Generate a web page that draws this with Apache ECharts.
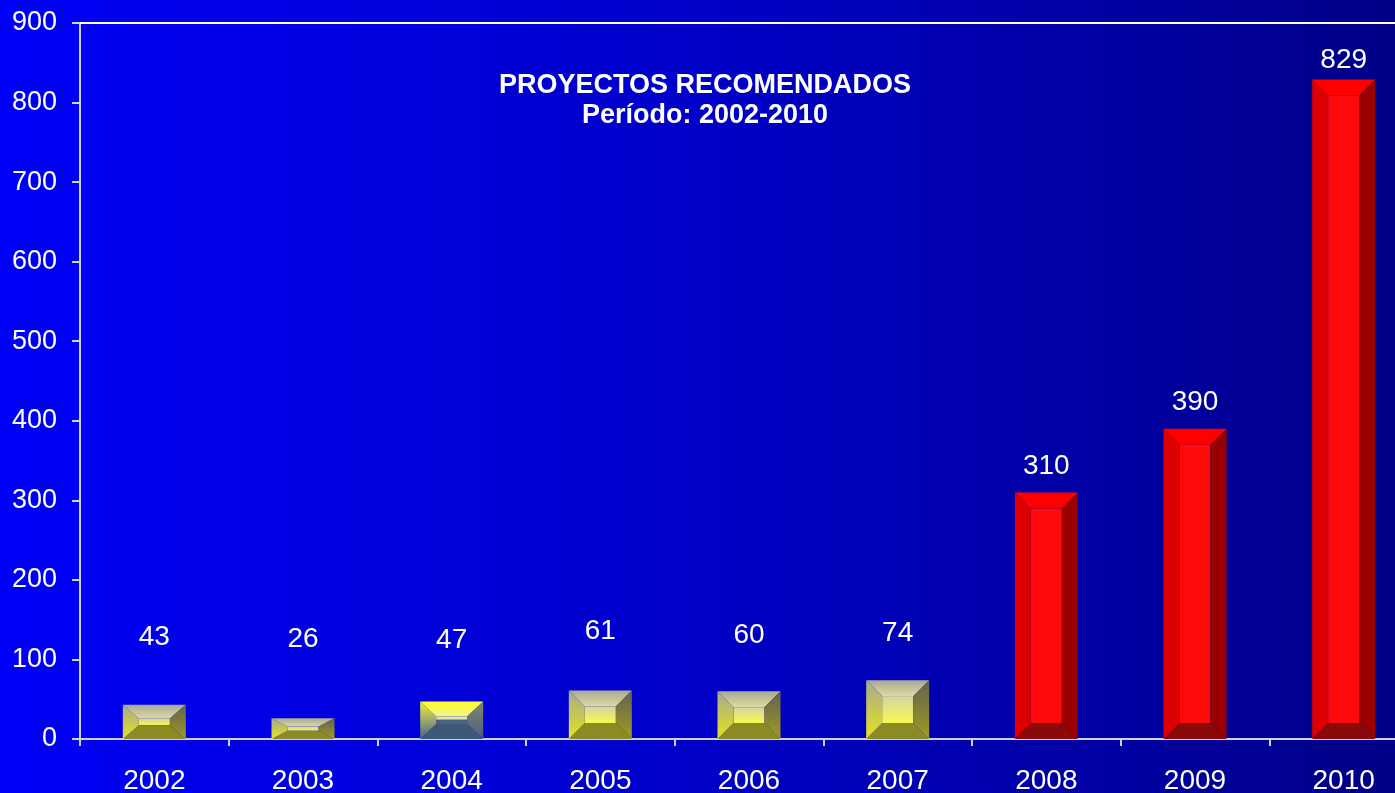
<!DOCTYPE html>
<html>
<head>
<meta charset="utf-8">
<title>Proyectos recomendados</title>
<script src="https://cdn.jsdelivr.net/npm/echarts@6/dist/echarts.min.js"></script>
<style>
  html, body { margin: 0; padding: 0; }
  #grafico { width: 1395px; height: 793px; }
</style>
</head>
<body>
<div id="grafico"></div>
<script>
  // datos del grafico
  var anios = ['2002', '2003', '2004', '2005', '2006', '2007', '2008', '2009', '2010'];
  var proyectos = [43, 26, 47, 61, 60, 74, 310, 390, 829];
  var ticksY = [0, 100, 200, 300, 400, 500, 600, 700, 800, 900];

  // separacion de la etiqueta respecto a la barra (px), solo estilo
  var distEtiqueta = [54, 65, 47, 45, 42, 33, 12, 12, 5];

  var fuente = 'Liberation Sans, Arial, sans-serif';

  function grad(c1, c2) {
    return {
      type: 'linear', x: 0, y: 0, x2: 0, y2: 1,
      colorStops: [{offset: 0, color: c1}, {offset: 1, color: c2}]
    };
  }

  var paletas = {
    oliva: {
      arriba: grad('#a8a898', '#dcdca0'),
      izq: grad('#a8a890', '#e4e41c'),
      der: grad('#626252', '#a09c1e'),
      centro: grad('#d4d4a4', '#f8f850'),
      abajo: '#8c8a22'
    },
    azulado: {
      arriba: grad('#ffff28', '#f2f290'),
      izq: grad('#f0f040', '#46648c'),
      der: grad('#86866a', '#46607e'),
      centro: {
        type: 'linear', x: 0, y: 0, x2: 0, y2: 1,
        colorStops: [{offset: 0, color: '#eeeeaa'}, {offset: 0.35, color: '#dcdc9c'},
          {offset: 0.45, color: '#4c6482'}, {offset: 1, color: '#46607e'}]
      },
      abajo: '#3e5878'
    },
    rojo: {
      arriba: '#ff0000',
      izq: '#dd0000',
      der: '#990000',
      centro: '#ff0a0a',
      abajo: '#8a0a0a'
    }
  };

  function elegirPaleta(anio, valor) {
    if (valor > 200) return paletas.rojo;
    if (anio === '2004') return paletas.azulado;
    return paletas.oliva;
  }

  // barra biselada dibujada con las escalas del eje
  function dibujarBarra(params, api) {
    var idx = api.value(0);
    var val = api.value(1);
    var tope = api.coord([idx, val]);
    var base = api.coord([idx, 0]);
    var w = 63;
    var x0 = tope[0] - w / 2, x1 = tope[0] + w / 2;
    var y0 = tope[1], y1 = base[1];
    var h = y1 - y0;
    var b = 16;
    var bv = Math.min(16, h * 0.4);
    var p = elegirPaleta(anios[idx], val);
    function poli(puntos, fill) {
      return {type: 'polygon', shape: {points: puntos}, style: {fill: fill}};
    }
    return {
      type: 'group',
      children: [
        {type: 'rect', shape: {x: x0 + b, y: y0 + bv, width: w - 2 * b, height: h - 2 * bv}, style: {fill: p.centro}},
        poli([[x0, y0], [x1, y0], [x1 - b, y0 + bv], [x0 + b, y0 + bv]], p.arriba),
        poli([[x0, y1], [x1, y1], [x1 - b, y1 - bv], [x0 + b, y1 - bv]], p.abajo),
        poli([[x0, y0], [x0 + b, y0 + bv], [x0 + b, y1 - bv], [x0, y1]], p.izq),
        poli([[x1, y0], [x1 - b, y0 + bv], [x1 - b, y1 - bv], [x1, y1]], p.der)
      ]
    };
  }

  var chart = echarts.init(document.getElementById('grafico'));
  var option = {
    backgroundColor: {
      type: 'linear', x: 0, y: 0, x2: 1, y2: 0,
      colorStops: [{offset: 0, color: '#0000f8'}, {offset: 0.5, color: '#0000c8'}, {offset: 1, color: '#000088'}]
    },
    animation: false,
    title: {
      text: 'PROYECTOS RECOMENDADOS\nPeríodo: 2002-2010',
      left: 700,
      textAlign: 'center',
      top: 66,
      textStyle: {
        color: '#ffffff',
        fontFamily: fuente,
        fontWeight: 'bold',
        fontSize: 27,
        lineHeight: 30
      }
    },
    grid: {
      left: 80,
      top: 23,
      width: 1338,
      height: 716,
      outerBoundsMode: 'none',
      containLabel: false
    },
    xAxis: [{
      type: 'category',
      data: anios,
      axisLine: {lineStyle: {color: '#d0d0d8', width: 2}},
      axisTick: {show: true, length: 7, lineStyle: {color: '#d0d0d8', width: 2}},
      axisLabel: {color: '#ffffff', fontFamily: fuente, fontSize: 28, margin: 28}
    }, {
      type: 'category',
      data: anios,
      position: 'top',
      axisLine: {lineStyle: {color: '#ffffff', width: 2}},
      axisTick: {show: false},
      axisLabel: {show: false}
    }],
    yAxis: {
      type: 'value',
      min: ticksY[0],
      max: ticksY[ticksY.length - 1],
      interval: ticksY[1] - ticksY[0],
      splitLine: {show: false},
      axisLine: {show: true, lineStyle: {color: '#d0d0d8', width: 2}},
      axisTick: {show: true, length: 8, lineStyle: {color: '#d0d0d8', width: 2}},
      axisLabel: {color: '#ffffff', fontFamily: fuente, fontSize: 27, margin: 23}
    },
    series: [{
      name: 'etiquetas',
      type: 'bar',
      barWidth: 63,
      itemStyle: {color: 'rgba(0,0,0,0)'},
      label: {
        show: true,
        position: 'top',
        color: '#ffffff',
        fontFamily: fuente,
        fontSize: 28
      },
      data: proyectos.map(function (v, i) {
        return {value: v, label: {distance: distEtiqueta[i]}};
      })
    }, {
      name: 'proyectos',
      type: 'custom',
      renderItem: dibujarBarra,
      encode: {x: 0, y: 1},
      z: 3,
      data: proyectos.map(function (v, i) {
        return [i, v];
      })
    }]
  };
  chart.setOption(option);
</script>
</body>
</html>
